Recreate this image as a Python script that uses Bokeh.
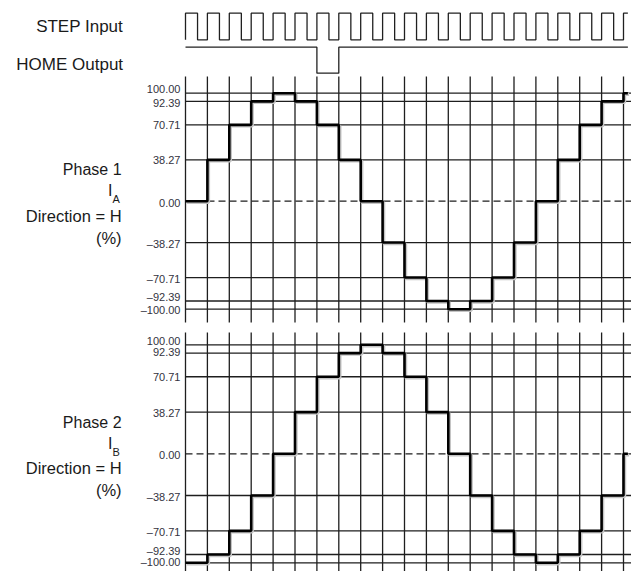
from bokeh.plotting import figure
from bokeh.models import Range1d, ColumnDataSource
from bokeh.core.properties import value
from bokeh.embed import file_html
from bokeh.resources import INLINE

# ---------------- data ----------------
phase1_values = [0, 38.27, 70.71, 92.39, 100, 92.39, 70.71, 38.27, 0, -38.27,
                 -70.71, -92.39, -100, -92.39, -70.71, -38.27, 0, 38.27, 70.71,
                 92.39, 100]
phase2_values = [-100, -92.39, -70.71, -38.27, 0, 38.27, 70.71, 92.39, 100,
                 92.39, 70.71, 38.27, 0, -38.27, -70.71, -92.39, -100, -92.39,
                 -70.71, -38.27, 0]
tick_values = [100, 92.39, 70.71, 38.27, 0, -38.27, -70.71, -92.39, -100]
tick_labels = ["100.00", "92.39", "70.71", "38.27", "0.00", "\u201338.27",
               "\u201370.71", "\u201392.39", "\u2013100.00"]
step_count = 21          # STEP pulses (one per microstep)
step_duty = 0.55         # fraction of a step the STEP input is high
home_edges = [0, 6, 7, 20.2]
home_levels = [1, 0, 1, 1]
phase1_label = ["Phase 1", "I", "A", "Direction = H", "(%)"]
phase2_label = ["Phase 2", "I", "B", "Direction = H", "(%)"]
signal_names = ["STEP Input", "HOME Output"]

# ---------------- layout / style ----------------
W, H = 631, 571
PX = 21.9                # pixels per step
X0 = 185.0               # pixel of step 0
WAVE_END = 20.2          # where the drawn waveforms stop (in steps)
FONT = value("Liberation Sans")
GRID = "#1e1e1e"

def vrange(c0, s):
    return Range1d(start=(c0 - H) / s, end=c0 / s)

p = figure(width=W, height=H, output_backend="svg", toolbar_location=None,
           x_range=Range1d(-X0 / PX, (W - X0) / PX), y_range=Range1d(0, 1),
           min_border=0, min_border_left=0, min_border_right=0,
           min_border_top=0, min_border_bottom=0)
p.axis.visible = False
p.grid.visible = False
p.outline_line_color = None
p.background_fill_color = "white"
p.border_fill_color = "white"

p.extra_y_ranges = {
    "step": vrange(39.3, 26.6),
    "home": vrange(72.7, 26.0),
    "p1": vrange(200.7, 1.08),
    "p2": vrange(453.3, 1.09),
}

n = len(phase1_values)
x_end = n + 1

# ---------- STEP / HOME signals ----------
sx, sy = [0], [0]
for k in range(step_count):
    fall = k + step_duty
    if fall < WAVE_END:
        sx += [k, k, fall, fall]
        sy += [0, 1, 1, 0]
    else:
        sx += [k, k, WAVE_END]
        sy += [0, 1, 1]
p.line(sx, sy, y_range_name="step", line_color="#202020", line_width=1.3)
hx, hy = [], []
for i in range(len(home_edges) - 1):
    hx += [home_edges[i], home_edges[i + 1]]
    hy += [home_levels[i], home_levels[i]]
p.line(hx, hy, y_range_name="home", line_color="#202020", line_width=1.3)

lab_x = -2.92
sig_x = -2.85
p.text(x=[sig_x], y=[0.5], text=[signal_names[0]], y_range_name="step",
       text_font=FONT, text_font_size="17px", text_align="right",
       text_baseline="middle", text_color="#1a1a1a")
p.text(x=[sig_x], y=[0.33], text=[signal_names[1]], y_range_name="home",
       text_font=FONT, text_font_size="17px", text_align="right",
       text_baseline="middle", text_color="#1a1a1a")

# ---------- phase panels ----------
tick_dy = {"p1": [-4, 1.5, 0.5, 0.5, 1.5, 1.5, 1, -3.5, 1],
           "p2": [-4, -1, 0.5, 0.5, 1.5, 1.5, 1, -3.5, -0.5]}
vert_ext = {"p1": (115.5, -112.3), "p2": (111.3, -125)}
shadow_dx = {"p1": 1.2 / PX, "p2": 1.2 / PX}
shadow_dy = {"p1": -1.2 / 1.08, "p2": -1.2 / 1.09}

def panel(rname, vals, labels):
    solid = [v for v in tick_values if v != 0]
    p.segment(x0=[0] * len(solid), x1=[x_end] * len(solid), y0=solid, y1=solid,
              y_range_name=rname, line_color=GRID, line_width=1.3)
    p.segment(x0=[0], x1=[x_end], y0=[0], y1=[0], y_range_name=rname,
              line_color=GRID, line_width=1.3, line_dash="7 4")
    top, bot = vert_ext[rname]
    ks = list(range(n))
    p.segment(x0=ks, x1=ks, y0=[top] * n, y1=[bot] * n, y_range_name=rname,
              line_color=GRID, line_width=1.3)
    xs = list(range(n)) + [WAVE_END]
    ys = vals + [vals[-1]]
    p.step(x=[x + shadow_dx[rname] for x in xs],
           y=[y + shadow_dy[rname] for y in ys], mode="after",
           y_range_name=rname, line_color="#c4c4c4", line_width=3)
    p.step(x=xs, y=ys, mode="after", y_range_name=rname,
           line_color="black", line_width=2.6)
    src = ColumnDataSource(dict(x=[-0.23] * len(tick_values), y=tick_values,
                                t=tick_labels, dy=tick_dy[rname]))
    p.text(x="x", y="y", text="t", y_offset="dy", source=src, y_range_name=rname,
           text_font=FONT, text_font_size="11px", text_align="right",
           text_baseline="middle", text_color="#333340")
    # side labels
    big = dict(text_font=FONT, text_font_size="16px", text_baseline="middle",
               text_color="#1a1a1a", y_range_name=rname)
    p.text(x=[lab_x], y=[0], text=[labels[0]], y_offset=-31.7, text_align="right", **big)
    p.text(x=[lab_x - 0.42], y=[0], text=[labels[1]], y_offset=-10.7, text_align="right", **big)
    p.text(x=[lab_x - 0.41], y=[0], text=[labels[2]], y_offset=-1.8, text_align="left",
           text_font=FONT, text_font_size="11px", text_baseline="middle",
           text_color="#1a1a1a", y_range_name=rname)
    big["text_font_size"] = "16.5px"
    p.text(x=[lab_x], y=[0], text=[labels[3]], y_offset=14.3, text_align="right", **big)
    p.text(x=[lab_x], y=[0], text=[labels[4]], y_offset=36.5, text_align="right", **big)

panel("p1", phase1_values, phase1_label)
panel("p2", phase2_values, phase2_label)

open("out.html", "w").write(file_html(p, INLINE))
